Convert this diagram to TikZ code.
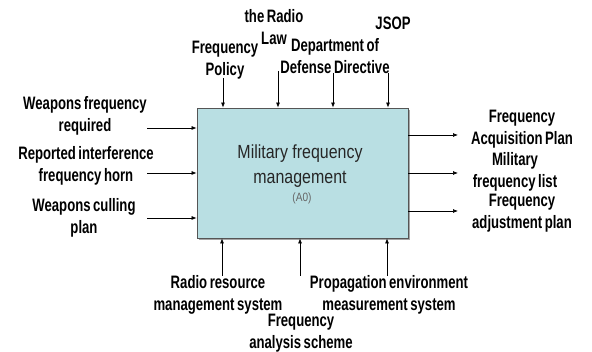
\documentclass[tikz,border=0pt]{standalone}
\usepackage{fontspec}
\setmainfont{Liberation Sans}[FakeStretch=0.73,WordSpace=0.7]
\newfontfamily\titlefont{Liberation Sans}[FakeStretch=0.84]
\usetikzlibrary{arrows.meta}
\definecolor{boxfill}{HTML}{B9DFE3}
\definecolor{boxline}{HTML}{555555}
\begin{document}
\begin{tikzpicture}[x=1pt,y=-1pt,
  lbl/.style={align=center,inner sep=0pt,font=\fontsize{18}{22}\selectfont\bfseries,text=black},
  flow/.style={draw=black,line width=0.7pt,-{Latex[length=5pt,width=4pt]}}]
\useasboundingbox (0,0) rectangle (592,352);
% box with shadow
\fill[gray!70] (199,110) rectangle (410,240);
\node[draw=boxline,fill=boxfill,line width=0.8pt,minimum width=211pt,minimum height=130pt,inner sep=0pt] (box) at (302.5,173) {};
\node[align=center,inner sep=0pt,font=\titlefont\fontsize{19}{25}\selectfont,text=black!85] (title) at (300,166) {Military frequency\\management};
\node[inner sep=0pt,font=\titlefont\fontsize{12}{14}\selectfont,text=black!60] (a0) at (302,198) {(A0)};
% top controls
\node[lbl] (c1) at (225,60) {Frequency\\Policy};
\node[lbl] (c2) at (274,27) {the Radio\\Law};
\node[lbl] (c3) at (335,56) {Department of\\Defense Directive};
\node[lbl] (c4) at (393,23) {JSOP};
\coordinate (c1s) at (223,78);
\coordinate (c2s) at (278,71);
\coordinate (c3s) at (333,73);
\coordinate (c4s) at (388,73);
\foreach \c in {c1s,c2s,c3s,c4s} \draw[flow] (\c) -- (\c |- box.north);
% inputs
\node[lbl] (i1) at (85,116) {Weapons frequency\\required};
\node[lbl] (i2) at (86,166) {Reported interference\\frequency horn};
\node[lbl] (i3) at (84,218) {Weapons culling\\plan};
\coordinate (i1s) at (147,128);
\coordinate (i2s) at (147,173);
\coordinate (i3s) at (147,218);
\foreach \c in {i1s,i2s,i3s} \draw[flow] (\c) -- (\c -| box.west);
% outputs
\node[lbl] (o1) at (522,129) {Frequency\\Acquisition Plan};
\node[lbl] (o2) at (515,172) {Military\\frequency list};
\node[lbl] (o3) at (522,213) {Frequency\\adjustment plan};
\coordinate (o1e) at (458,135);
\coordinate (o2e) at (458,173);
\coordinate (o3e) at (458,211);
\foreach \c in {o1e,o2e,o3e} \draw[flow] (\c -| box.east) -- (\c);
% mechanisms
\node[lbl] (m1) at (218,295) {Radio resource\\management system};
\node[lbl] (m2) at (301,333) {Frequency\\analysis scheme};
\node[lbl] (m3) at (389,295) {Propagation environment\\measurement system};
\coordinate (m1s) at (222,276);
\coordinate (m2s) at (300,276);
\coordinate (m3s) at (387,276);
\foreach \c in {m1s,m2s,m3s} \draw[flow] (\c) -- (\c |- box.south);
\end{tikzpicture}
\end{document}
